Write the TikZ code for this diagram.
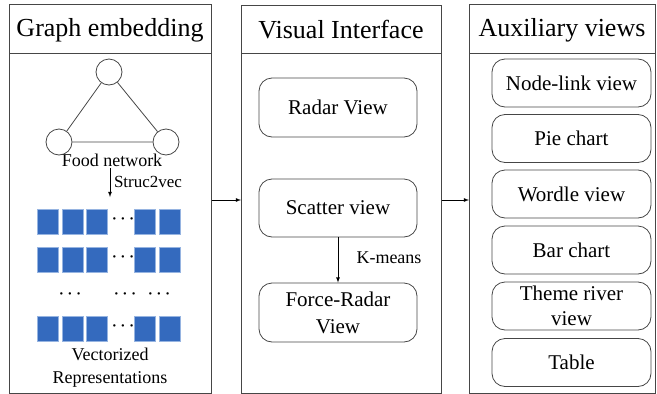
\documentclass[tikz,border=0pt]{standalone}
\usepackage{fontspec}
\setmainfont{Liberation Serif}
\definecolor{sqblue}{RGB}{52,106,190}
\definecolor{sqedge}{RGB}{150,180,225}
\definecolor{ln}{RGB}{70,70,70}
\newcommand{\mydots}{\textperiodcentered\kern2pt\textperiodcentered\kern2pt\textperiodcentered}
\begin{document}
\begin{tikzpicture}[x=1pt,y=-1pt,
  panel/.style={draw=ln,line width=0.9pt,inner sep=0pt},
  head/.style={font=\fontsize{26}{28}\selectfont,anchor=center},
  rbox/.style={draw=ln,line width=0.8pt,rounded corners=13pt,inner sep=0pt,align=center,font=\fontsize{21}{27}\selectfont},
  sq/.style={fill=sqblue,draw=sqedge,line width=0.6pt,minimum width=21pt,minimum height=25pt,inner sep=0pt},
  dotsn/.style={font=\fontsize{20}{20}\selectfont,inner sep=0pt},
  circ/.style={circle,draw=ln,line width=0.8pt,minimum size=26pt,inner sep=0pt},
  lbl/.style={font=\fontsize{18}{23}\selectfont,align=center,inner sep=0pt},
  arr/.style={-latex,draw=black,line width=0.8pt}]
\useasboundingbox (0,0) rectangle (657,394);
% panels
\node[panel,minimum width=202pt,minimum height=389pt,anchor=north west] (p1) at (9,4) {};
\node[panel,minimum width=200pt,minimum height=388pt,anchor=north west] (p2) at (241,5) {};
\node[panel,minimum width=186pt,minimum height=389pt,anchor=north west] (p3) at (469,4) {};
\draw[ln,line width=0.9pt] (9,53) -- (211,53);
\draw[ln,line width=0.9pt] (241,53) -- (441,53);
\draw[ln,line width=0.9pt] (469,53) -- (655,53);
\node[head] (h1) at (110,30) {Graph embedding};
\node[head] (h2) at (341,30) {Visual Interface};
\node[head] (h3) at (562,30) {Auxiliary views};
% graph
\node[circ] (c1) at (109,72) {};
\node[circ] (c2) at (59,142) {};
\node[circ] (c3) at (166,142) {};
\draw[ln,line width=0.8pt] (c1) -- (c2) (c1) -- (c3) (c2) -- (c3);
\node[lbl] (food) at (112,160) {Food network};
\coordinate (s0) at (110,168);
\coordinate (s1) at (110,197);
\draw[arr] (s0) -- (s1);
\node[lbl,font=\fontsize{17}{20}\selectfont] (s2v) at (148,182) {Struc2vec};
% vectors
\foreach \r/\y in {1/221.5,2/259.5,4/328.5}{
  \foreach \c/\x in {1/47.5,2/72.5,3/96.5,4/144.5,5/169.5}{
    \node[sq] (q\r\c) at (\x,\y) {};
  }
  \node[dotsn] (d\r) at (123,\y) {\mydots};
}
\node[dotsn] (e1) at (70,297) {\mydots};
\node[dotsn] (e2) at (125,297) {\mydots};
\node[dotsn] (e3) at (159,297) {\mydots};
\node[lbl] (vr) at (110,368) {Vectorized\\Representations};
% visual interface
\node[rbox,minimum width=158pt,minimum height=59pt] (radar) at (338,107.5) {Radar View};
\node[rbox,minimum width=158pt,minimum height=58pt] (scatter) at (338,208) {Scatter view};
\node[rbox,minimum width=158pt,minimum height=59pt] (force) at (338,312.5) {Force-Radar\\View};
\draw[arr] (scatter) -- (force);
\node[lbl] (km) at (389,258) {K-means};
% auxiliary
\node[rbox,minimum width=159pt,minimum height=48pt] (b1) at (571.5,83) {Node-link view};
\node[rbox,minimum width=159pt,minimum height=48pt] (b2) at (571.5,138.5) {Pie chart};
\node[rbox,minimum width=159pt,minimum height=48pt] (b3) at (571.5,194) {Wordle view};
\node[rbox,minimum width=159pt,minimum height=48pt] (b4) at (571.5,250) {Bar chart};
\node[rbox,minimum width=159pt,minimum height=48pt,font=\fontsize{21}{25}\selectfont] (b5) at (571.5,306) {Theme river\\view};
\node[rbox,minimum width=159pt,minimum height=48pt] (b6) at (571.5,362.5) {Table};
% panel arrows
\draw[arr] (p1.east |- 0,200) -- (p2.west |- 0,200);
\draw[arr] (p2.east |- 0,200) -- (p3.west |- 0,200);
\end{tikzpicture}
\end{document}
